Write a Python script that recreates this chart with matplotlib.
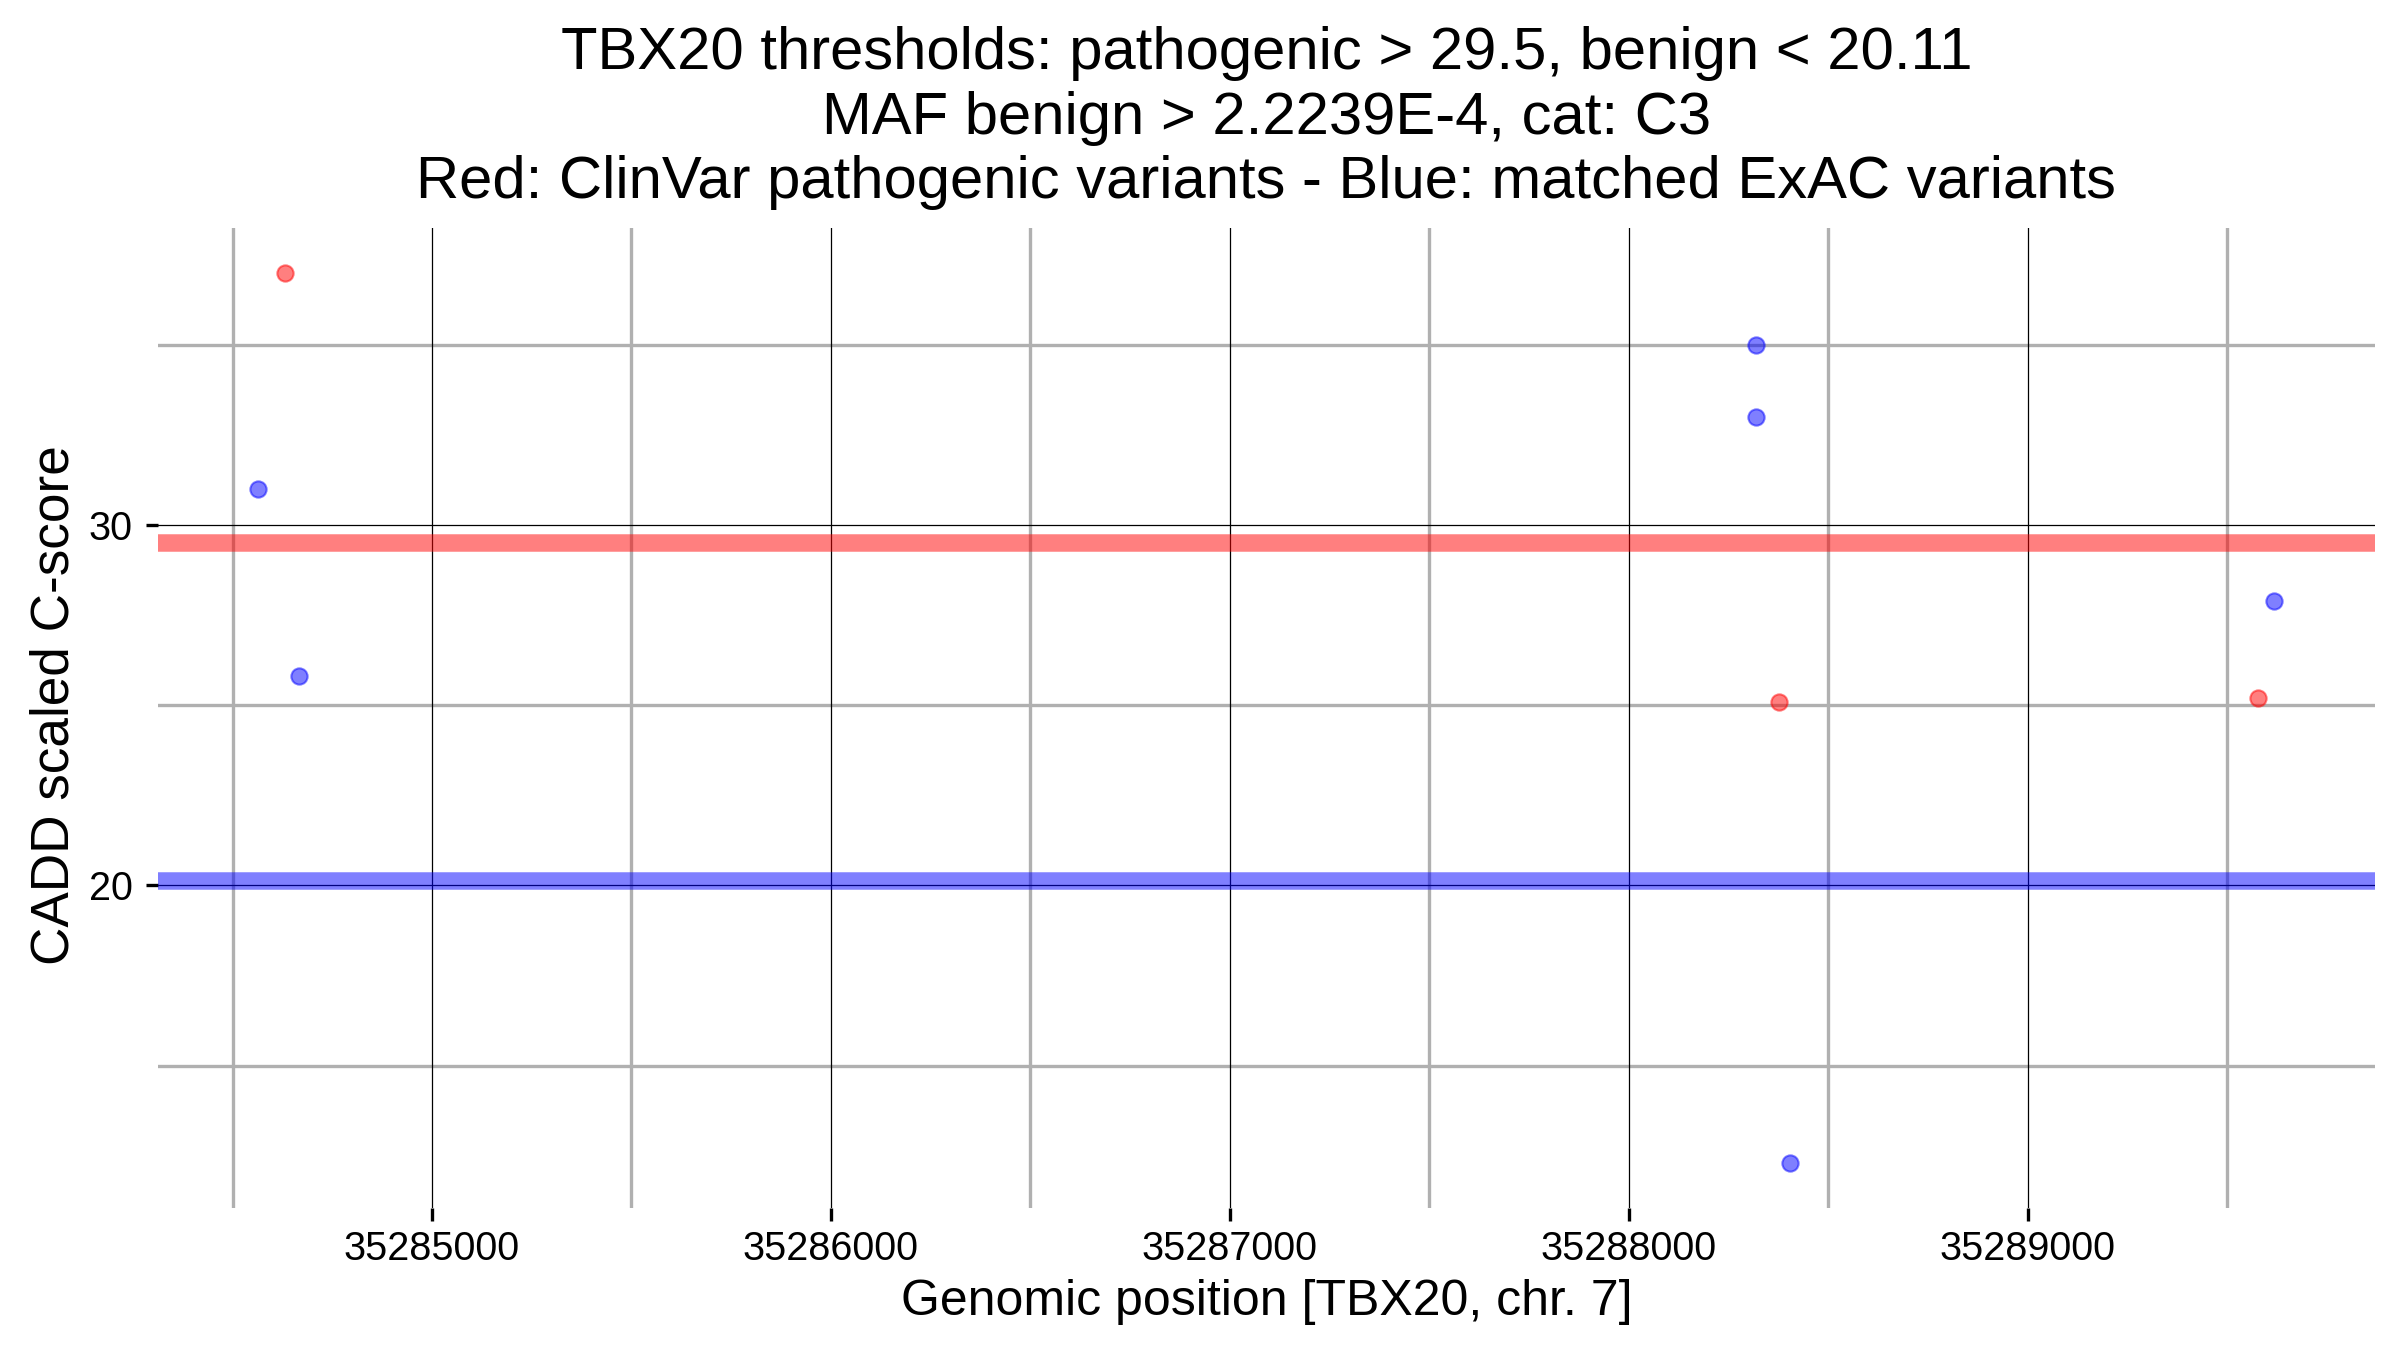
import matplotlib
matplotlib.use("Agg")
import matplotlib.pyplot as plt
import numpy as np

plt.rcParams['font.family'] = ['Liberation Sans', 'DejaVu Sans']

# ---- data ----
clinvar_pos = [35284631, 35288377, 35289577]
clinvar_score = [37.0, 25.1, 25.2]
exac_pos = [35284565, 35284667, 35288320, 35288320, 35288405, 35289618]
exac_score = [31.0, 25.8, 35.0, 33.0, 12.3, 27.9]
threshold_pathogenic = 29.5
threshold_benign = 20.11
x_major = [35285000, 35286000, 35287000, 35288000, 35289000]
x_minor = [35284500, 35285500, 35286500, 35287500, 35288500, 35289500]
y_major = [20, 30]
y_minor = [15, 25, 35]
title_lines = [
    "TBX20 thresholds: pathogenic > 29.5, benign < 20.11",
    "MAF benign > 2.2239E-4, cat: C3",
    "Red: ClinVar pathogenic variants - Blue: matched ExAC variants",
]
xlabel = "Genomic position [TBX20, chr. 7]"
ylabel = "CADD scaled C-score"

W, H = 2400, 1350
fig = plt.figure(figsize=(16, 9), dpi=150)
ax_l, ax_r, ax_t, ax_b = 157.7, 2375, 228, 1207.5
ax = fig.add_axes([ax_l / W, 1 - ax_b / H, (ax_r - ax_l) / W, (ax_b - ax_t) / H])

for s in ax.spines.values():
    s.set_visible(False)

# data with 5% expansion
allx = clinvar_pos + exac_pos
ally = clinvar_score + exac_score
xr = max(allx) - min(allx)
yr = max(ally) - min(ally)
ax.set_xlim(min(allx) - 0.05 * xr, max(allx) + 0.05 * xr)
ax.set_ylim(min(ally) - 0.05 * yr, max(ally) + 0.05 * yr)

# grid
for v in x_minor:
    ax.axvline(v, color='#b0b0b0', lw=1.6, zorder=1)
for v in y_minor:
    ax.axhline(v, color='#b0b0b0', lw=1.6, zorder=1)
for v in x_major:
    ax.axvline(v, color='black', lw=0.6, zorder=1.5)
for v in y_major:
    ax.axhline(v, color='black', lw=0.6, zorder=1.5)

ax.axhline(threshold_pathogenic, color='#ff0000', alpha=0.5, lw=8.4, zorder=2)
ax.axhline(threshold_benign, color='#0000ff', alpha=0.5, lw=8.4, zorder=2)

ax.plot(clinvar_pos, clinvar_score, 'o', color='#ff0000', alpha=0.5,
        markersize=7.8, markeredgewidth=1.0, zorder=3)
ax.plot(exac_pos, exac_score, 'o', color='#0000ff', alpha=0.5,
        markersize=7.8, markeredgewidth=1.0, zorder=3)

ax.set_xticks(x_major)
ax.set_xticklabels([str(v) for v in x_major])
ax.set_yticks(y_major)
ax.set_yticklabels([str(v) for v in y_major])
ax.tick_params(axis='both', length=6, width=1.6, color='black', labelsize=19,
               labelcolor='black')
ax.tick_params(axis='x', pad=5)
ax.tick_params(axis='y', pad=6)

cx = (ax_l + ax_r) / 2 / W
for line, base in zip(title_lines, [69, 133.5, 198]):
    fig.text(cx, 1 - base / H, line, ha='center', va='baseline', fontsize=28.7)

fig.text(cx, 1 - 1315 / H, xlabel, ha='center', va='baseline', fontsize=24)
fig.text(55 / W, 1 - 705 / H, ylabel, ha='center', va='center',
         rotation=90, fontsize=25.5)

fig.savefig("out.png", dpi=150, facecolor='white')
